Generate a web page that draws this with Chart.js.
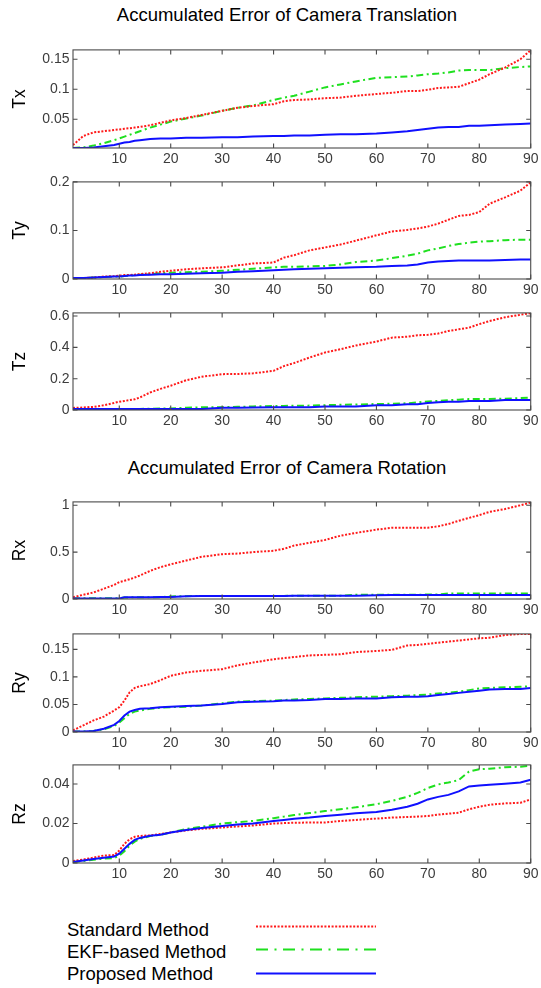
<!DOCTYPE html>
<html>
<head>
<meta charset="utf-8">
<script src="https://cdn.jsdelivr.net/npm/chart.js@4.4.1/dist/chart.umd.min.js"></script>
<style>
  html, body { margin: 0; padding: 0; background: #fff; }
  #wrap { position: relative; width: 541px; height: 988px; overflow: hidden; background: #fff;
          font-family: "Liberation Sans", Arial, Helvetica, sans-serif; }
  canvas { position: absolute; left: 0; }
  .title { position: absolute; left: 0; width: 574px; text-align: center; font-size: 18.5px;
           line-height: 20px; color: #000; white-space: nowrap; }
  .leg { position: absolute; left: 67px; font-size: 18.5px; line-height: 20px; color: #000; white-space: nowrap; }
  svg { position: absolute; left: 0; top: 0; }
</style>
</head>
<body>
<div id="wrap">
  <div class="title" style="top:4.5px">Accumulated Error of Camera Translation</div>
  <div class="title" style="top:457.5px">Accumulated Error of Camera Rotation</div>
  <div class="leg" style="top:920px">Standard Method</div>
  <div class="leg" style="top:942px">EKF-based Method</div>
  <div class="leg" style="top:963.5px">Proposed Method</div>
  <svg width="541" height="988">
    <line x1="256" y1="926.5" x2="376" y2="926.5" stroke="#ff1a1a" stroke-width="2" stroke-dasharray="2,1.6"/>
    <line x1="256" y1="949.5" x2="376" y2="949.5" stroke="#1fe01f" stroke-width="2" stroke-dasharray="12,6.5,2,6.5"/>
    <line x1="256" y1="973.5" x2="376" y2="973.5" stroke="#1010ff" stroke-width="2"/>
  </svg>
</div>
<script>
// ---- data ----
const frames = [1,3,5,7,9,10,11,12,13,14,16,18,20,23,26,30,33,36,40,42,44,47,50,53,56,60,63,66,68,70,72,74,76,78,80,82,85,88,90];
const xTicks = [10,20,30,40,50,60,70,80,90];
const seriesNames = ['Standard Method', 'EKF-based Method', 'Proposed Method'];

const txStandard = [0.007,0.022,0.028,0.030,0.032, 0.033,0.034,0.035,0.036,0.037, 0.040,0.044,0.048,0.052,0.057, 0.064,0.069,0.072,0.075,0.080, 0.082,0.083,0.085,0.086,0.089, 0.092,0.094,0.097,0.097,0.099, 0.102,0.103,0.104,0.110,0.116, 0.125,0.136,0.150,0.165];
const txEKF      = [0.002,0.003,0.006,0.010,0.015, 0.018,0.021,0.024,0.027,0.030, 0.036,0.041,0.046,0.051,0.056, 0.064,0.069,0.073,0.082,0.086, 0.089,0.096,0.103,0.108,0.113, 0.119,0.120,0.121,0.123,0.125, 0.126,0.128,0.131,0.132,0.132, 0.132,0.135,0.137,0.138];
const txProposed = [0.002,0.002,0.003,0.005,0.007, 0.009,0.011,0.012,0.014,0.015, 0.017,0.018,0.018,0.019,0.019, 0.020,0.020,0.021,0.022,0.022, 0.023,0.023,0.024,0.025,0.025, 0.026,0.028,0.030,0.032,0.034, 0.036,0.037,0.037,0.039,0.039, 0.040,0.041,0.042,0.043];

const tyStandard = [0.001,0.002,0.003,0.005,0.006, 0.007,0.008,0.008,0.009,0.010, 0.012,0.015,0.017,0.020,0.022, 0.024,0.028,0.032,0.034,0.044, 0.049,0.059,0.065,0.071,0.079, 0.090,0.098,0.101,0.104,0.108, 0.114,0.122,0.130,0.132,0.138, 0.155,0.168,0.182,0.199];
const tyEKF      = [0.001,0.002,0.003,0.004,0.005, 0.005,0.006,0.007,0.008,0.009, 0.010,0.012,0.013,0.014,0.015, 0.017,0.019,0.021,0.024,0.025, 0.025,0.026,0.027,0.030,0.035, 0.038,0.043,0.048,0.052,0.059, 0.063,0.068,0.072,0.075,0.077, 0.078,0.080,0.081,0.081];
const tyProposed = [0.002,0.002,0.003,0.004,0.005, 0.005,0.006,0.007,0.007,0.008, 0.009,0.010,0.010,0.011,0.012, 0.013,0.015,0.016,0.018,0.019, 0.020,0.021,0.022,0.023,0.024, 0.025,0.027,0.028,0.030,0.034, 0.036,0.037,0.038,0.038,0.038, 0.038,0.039,0.040,0.040];

const tzStandard = [0.013,0.016,0.020,0.030,0.045, 0.053,0.058,0.063,0.068,0.080, 0.112,0.135,0.155,0.190,0.212, 0.229,0.230,0.234,0.250,0.280, 0.300,0.335,0.367,0.388,0.412, 0.437,0.462,0.468,0.477,0.480, 0.488,0.505,0.515,0.526,0.548, 0.568,0.592,0.608,0.618];
const tzEKF      = [0.004,0.004,0.005,0.005,0.005, 0.006,0.006,0.006,0.006,0.007, 0.008,0.009,0.010,0.015,0.017, 0.018,0.020,0.023,0.025,0.026, 0.027,0.028,0.031,0.033,0.035, 0.038,0.040,0.043,0.048,0.055, 0.058,0.062,0.066,0.070,0.071, 0.071,0.072,0.076,0.080];
const tzProposed = [0.006,0.006,0.006,0.006,0.006, 0.006,0.006,0.006,0.006,0.006, 0.006,0.006,0.006,0.006,0.006, 0.015,0.015,0.016,0.017,0.017, 0.018,0.018,0.022,0.023,0.023, 0.030,0.031,0.036,0.037,0.045, 0.050,0.052,0.053,0.057,0.058, 0.058,0.064,0.064,0.064];

const rxStandard = [0.018,0.045,0.070,0.110,0.150, 0.180,0.195,0.210,0.230,0.250, 0.300,0.340,0.370,0.410,0.450, 0.478,0.485,0.500,0.515,0.535, 0.570,0.600,0.630,0.675,0.705, 0.740,0.760,0.760,0.760,0.760, 0.775,0.800,0.835,0.865,0.895, 0.930,0.960,1.000,1.030];
const rxEKF      = [0.008,0.008,0.008,0.008,0.008, 0.008,0.015,0.018,0.018,0.018, 0.019,0.020,0.028,0.030,0.032, 0.032,0.033,0.033,0.033,0.033, 0.034,0.034,0.035,0.036,0.045, 0.046,0.046,0.046,0.046,0.047, 0.048,0.058,0.059,0.059,0.060, 0.060,0.060,0.060,0.060];
const rxProposed = [0.006,0.006,0.006,0.006,0.006, 0.006,0.018,0.020,0.020,0.020, 0.020,0.021,0.022,0.030,0.032, 0.032,0.033,0.033,0.033,0.033, 0.034,0.034,0.034,0.035,0.035, 0.041,0.042,0.042,0.042,0.042, 0.043,0.044,0.044,0.044,0.044, 0.044,0.044,0.044,0.044];

const ryStandard = [0.003,0.012,0.021,0.028,0.039, 0.045,0.057,0.072,0.080,0.083, 0.087,0.094,0.102,0.108,0.111, 0.114,0.121,0.126,0.132,0.134, 0.136,0.139,0.140,0.141,0.145, 0.147,0.149,0.157,0.158,0.160, 0.162,0.164,0.166,0.168,0.170, 0.171,0.176,0.178,0.178];
const ryEKF      = [0.001,0.001,0.002,0.005,0.011, 0.017,0.025,0.033,0.037,0.039, 0.042,0.044,0.045,0.046,0.048, 0.052,0.055,0.056,0.057,0.058, 0.059,0.060,0.061,0.062,0.063, 0.064,0.065,0.066,0.067,0.068, 0.070,0.071,0.073,0.076,0.079, 0.080,0.081,0.082,0.083];
const ryProposed = [0.001,0.001,0.002,0.006,0.013, 0.020,0.030,0.037,0.040,0.042, 0.043,0.045,0.046,0.047,0.048, 0.051,0.054,0.055,0.056,0.057, 0.057,0.058,0.060,0.060,0.061, 0.061,0.063,0.064,0.064,0.065, 0.067,0.069,0.071,0.073,0.075, 0.077,0.078,0.078,0.080];

const rzStandard = [0.0010,0.0018,0.0027,0.0038,0.0040, 0.0063,0.0097,0.0120,0.0133,0.0137, 0.0140,0.0147,0.0155,0.0165,0.0173, 0.0180,0.0185,0.0190,0.0200,0.0202, 0.0204,0.0205,0.0205,0.0213,0.0218, 0.0225,0.0230,0.0233,0.0235,0.0238, 0.0245,0.0250,0.0255,0.0272,0.0285, 0.0295,0.0302,0.0305,0.0322];
const rzEKF      = [0.0005,0.0010,0.0017,0.0022,0.0025, 0.0038,0.0060,0.0088,0.0108,0.0122, 0.0137,0.0143,0.0155,0.0172,0.0183, 0.0200,0.0207,0.0213,0.0227,0.0235, 0.0243,0.0253,0.0263,0.0272,0.0282, 0.0298,0.0315,0.0335,0.0355,0.0380, 0.0398,0.0408,0.0420,0.0463,0.0475, 0.0478,0.0485,0.0488,0.0493];
const rzProposed = [0.0005,0.0013,0.0020,0.0027,0.0033, 0.0047,0.0072,0.0097,0.0117,0.0127, 0.0138,0.0143,0.0155,0.0167,0.0177, 0.0188,0.0195,0.0200,0.0213,0.0218, 0.0224,0.0230,0.0238,0.0245,0.0252, 0.0258,0.0270,0.0285,0.0300,0.0322, 0.0335,0.0345,0.0363,0.0388,0.0393, 0.0397,0.0402,0.0408,0.0422];

const txTicks = [0.05, 0.1, 0.15];
const tyTicks = [0, 0.1, 0.2];
const tzTicks = [0, 0.2, 0.4, 0.6];
const rxTicks = [0, 0.5, 1];
const ryTicks = [0, 0.05, 0.1, 0.15];
const rzTicks = [0, 0.02, 0.04];

// ---- layout / styling ----
const panels = [
  { label: 'Tx', s: txStandard, e: txEKF, p: txProposed, ticks: txTicks, min: 0.002, max: 0.1655, top: 48,  bottom: 148 },
  { label: 'Ty', s: tyStandard, e: tyEKF, p: tyProposed, ticks: tyTicks, min: 0,     max: 0.2,    top: 180, bottom: 279 },
  { label: 'Tz', s: tzStandard, e: tzEKF, p: tzProposed, ticks: tzTicks, min: 0,     max: 0.62,   top: 311, bottom: 410 },
  { label: 'Rx', s: rxStandard, e: rxEKF, p: rxProposed, ticks: rxTicks, min: 0,     max: 1.036,  top: 500, bottom: 599 },
  { label: 'Ry', s: ryStandard, e: ryEKF, p: ryProposed, ticks: ryTicks, min: 0,     max: 0.178,  top: 632, bottom: 732 },
  { label: 'Rz', s: rzStandard, e: rzEKF, p: rzProposed, ticks: rzTicks, min: 0,     max: 0.0497, top: 763, bottom: 863 },
];

const FONT = '"Liberation Sans", Arial, Helvetica, sans-serif';
const FRAME = '#4a4a4a';
const TICKCOL = '#3c3c3c';
const PAD_TOP = 10, X_AXIS_H = 24, Y_AXIS_W = 73, PAD_RIGHT = 8, TL = 4.5;

Chart.defaults.font.family = FONT;

const framePlugin = {
  id: 'matlabBox',
  afterDatasetsDraw(chart) {
    const { ctx, chartArea: a, scales: { x, y } } = chart;
    ctx.save();
    ctx.strokeStyle = FRAME;
    ctx.lineWidth = 1.1;
    ctx.beginPath();
    x.ticks.forEach(t => {
      const px = x.getPixelForValue(t.value);
      ctx.moveTo(px, a.top); ctx.lineTo(px, a.top + TL);
      ctx.moveTo(px, a.bottom); ctx.lineTo(px, a.bottom - TL);
    });
    y.ticks.forEach(t => {
      const py = y.getPixelForValue(t.value);
      ctx.moveTo(a.left, py); ctx.lineTo(a.left + TL, py);
      ctx.moveTo(a.right, py); ctx.lineTo(a.right - TL, py);
    });
    ctx.stroke();
    ctx.strokeRect(a.left, a.top, a.right - a.left, a.bottom - a.top);
    ctx.restore();
  }
};

const wrap = document.getElementById('wrap');

panels.forEach(pn => {
  const h = (pn.bottom - pn.top) + PAD_TOP + X_AXIS_H;
  const cv = document.createElement('canvas');
  cv.width = 541; cv.height = h;
  cv.style.top = (pn.top - PAD_TOP) + 'px';
  cv.style.width = '541px'; cv.style.height = h + 'px';
  wrap.appendChild(cv);

  const pts = arr => frames.map((f, i) => ({ x: f, y: arr[i] }));

  new Chart(cv, {
    type: 'line',
    data: {
      datasets: [
        { label: seriesNames[2], data: pts(pn.p), borderColor: '#1010ff', borderWidth: 2, order: 0 },
        { label: seriesNames[0], data: pts(pn.s), borderColor: '#ff1a1a', borderWidth: 2, borderDash: [2, 1.6], order: 1 },
        { label: seriesNames[1], data: pts(pn.e), borderColor: '#1fe01f', borderWidth: 2, borderDash: [7, 3.5, 2, 3.5], order: 2 },
      ]
    },
    options: {
      responsive: false,
      animation: false,
      events: [],
      layout: { padding: { top: PAD_TOP, right: PAD_RIGHT, left: 0, bottom: 0 } },
      elements: { point: { radius: 0 }, line: { tension: 0, borderCapStyle: 'butt', fill: false } },
      plugins: { legend: { display: false }, tooltip: { enabled: false }, title: { display: false } },
      scales: {
        x: {
          type: 'linear', min: 1, max: 90,
          grid: { display: false, drawTicks: false },
          border: { display: false },
          afterBuildTicks: s => { s.ticks = xTicks.map(v => ({ value: v })); },
          afterFit: s => { s.height = X_AXIS_H; },
          ticks: { color: TICKCOL, font: { size: 14 }, padding: 2.5, maxRotation: 0, autoSkip: false,
                   callback: v => String(v) }
        },
        y: {
          type: 'linear', min: pn.min, max: pn.max,
          grid: { display: false, drawTicks: false },
          border: { display: false },
          afterBuildTicks: s => { s.ticks = pn.ticks.map(v => ({ value: v })); },
          afterFit: s => { s.width = Y_AXIS_W; },
          ticks: { color: TICKCOL, font: { size: 14 }, padding: 3.5, autoSkip: false,
                   callback: v => String(v) },
          title: { display: true, text: pn.label, color: '#000', font: { size: 17.5 },
                   padding: { top: 9.3, bottom: 0 } }
        }
      }
    },
    plugins: [framePlugin]
  });
});
</script>
</body>
</html>
